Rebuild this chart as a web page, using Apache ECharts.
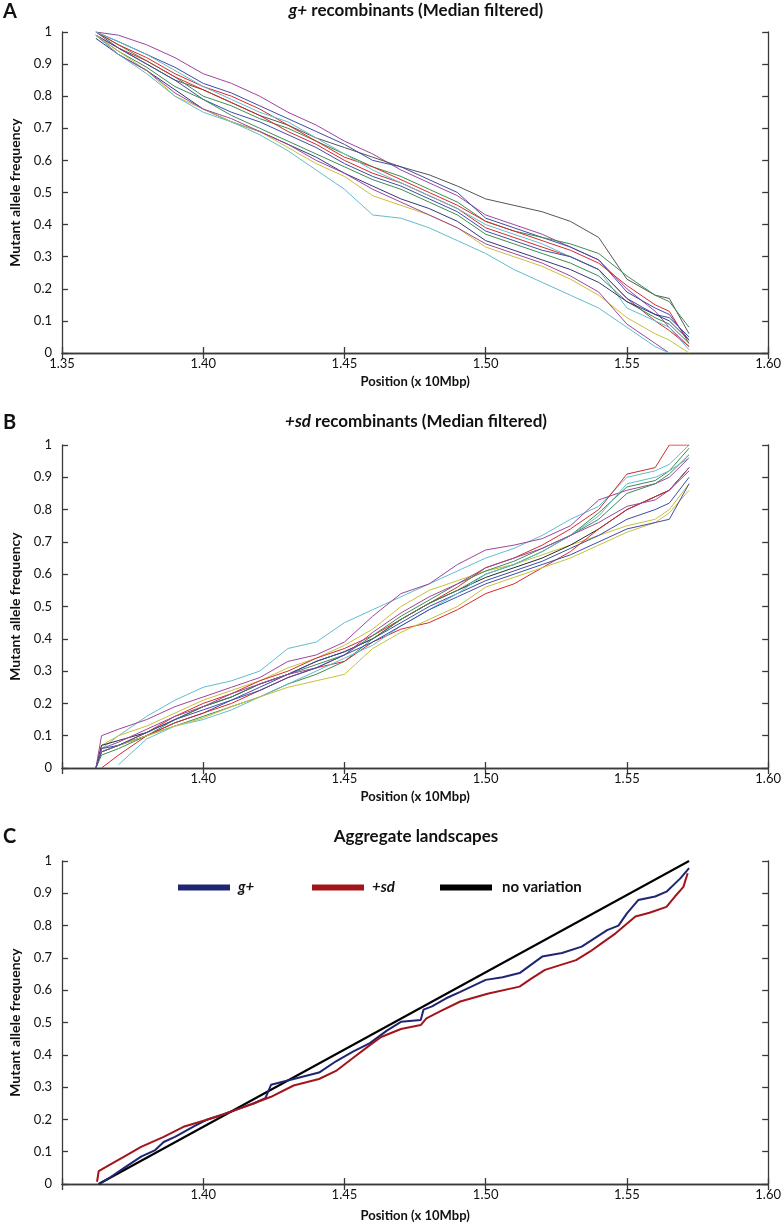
<!DOCTYPE html>
<html>
<head>
<meta charset="utf-8">
<script src="https://cdn.jsdelivr.net/npm/echarts@6/dist/echarts.min.js"></script>
<style>
  html, body { margin: 0; padding: 0; background: #fff; }
  #chart { width: 784px; height: 1226px; }
</style>
</head>
<body>
<div id="chart"></div>
<script>
// positions (x 10Mbp) shared by the single-line series of panel A and B
const posA = [1.362, 1.37, 1.38, 1.39, 1.40, 1.41, 1.42, 1.43, 1.44, 1.45, 1.46, 1.47, 1.48, 1.49, 1.50, 1.51, 1.52, 1.53, 1.54, 1.55, 1.56, 1.565, 1.572]
const posB = [1.362, 1.364, 1.37, 1.38, 1.39, 1.40, 1.41, 1.42, 1.43, 1.44, 1.45, 1.46, 1.47, 1.48, 1.49, 1.50, 1.51, 1.52, 1.53, 1.54, 1.55, 1.56, 1.565, 1.572]

// A: g+ recombinants
const gPurple1 = [1.00, 0.99, 0.96, 0.92, 0.87, 0.84, 0.80, 0.75, 0.71, 0.66, 0.62, 0.57, 0.53, 0.49, 0.43, 0.40, 0.37, 0.33, 0.29, 0.20, 0.13, 0.08, 0.02]
const gGray = [1.00, 0.95, 0.90, 0.85, 0.82, 0.78, 0.74, 0.71, 0.67, 0.64, 0.61, 0.58, 0.555, 0.52, 0.48, 0.46, 0.44, 0.41, 0.36, 0.23, 0.18, 0.17, 0.06]
const gBlue1 = [1.00, 0.97, 0.93, 0.89, 0.84, 0.81, 0.77, 0.73, 0.69, 0.65, 0.60, 0.58, 0.54, 0.50, 0.42, 0.39, 0.36, 0.33, 0.29, 0.19, 0.14, 0.12, 0.04]
const gGreen1 = [1.00, 0.96, 0.91, 0.86, 0.80, 0.77, 0.73, 0.70, 0.66, 0.62, 0.58, 0.55, 0.51, 0.47, 0.41, 0.38, 0.36, 0.34, 0.31, 0.24, 0.18, 0.16, 0.08]
const gRed1 = [1.00, 0.96, 0.92, 0.87, 0.83, 0.80, 0.76, 0.71, 0.66, 0.61, 0.58, 0.54, 0.50, 0.46, 0.41, 0.38, 0.35, 0.32, 0.28, 0.21, 0.15, 0.13, 0.03]
const gRed2 = [0.99, 0.95, 0.91, 0.86, 0.82, 0.78, 0.74, 0.69, 0.65, 0.60, 0.56, 0.53, 0.49, 0.45, 0.39, 0.36, 0.33, 0.30, 0.26, 0.17, 0.10, 0.07, 0.02]
const gCyan1 = [1.00, 0.97, 0.93, 0.88, 0.83, 0.79, 0.75, 0.72, 0.67, 0.62, 0.57, 0.53, 0.49, 0.45, 0.40, 0.37, 0.34, 0.30, 0.26, 0.14, 0.10, 0.08, 0.01]
const gBlue2 = [0.99, 0.95, 0.90, 0.85, 0.79, 0.75, 0.72, 0.68, 0.64, 0.59, 0.55, 0.52, 0.48, 0.44, 0.38, 0.35, 0.32, 0.30, 0.26, 0.17, 0.12, 0.11, 0.05]
const gGreen2 = [0.99, 0.94, 0.89, 0.83, 0.79, 0.74, 0.70, 0.66, 0.62, 0.58, 0.54, 0.51, 0.47, 0.43, 0.37, 0.34, 0.31, 0.28, 0.24, 0.16, 0.11, 0.09, 0.03]
const gBlue3 = [0.98, 0.93, 0.88, 0.82, 0.76, 0.72, 0.69, 0.65, 0.61, 0.56, 0.52, 0.48, 0.45, 0.41, 0.35, 0.32, 0.29, 0.26, 0.22, 0.16, 0.12, 0.10, 0.04]
const gYellow = [0.99, 0.94, 0.88, 0.80, 0.76, 0.72, 0.69, 0.64, 0.59, 0.55, 0.49, 0.46, 0.43, 0.39, 0.33, 0.30, 0.27, 0.23, 0.18, 0.11, 0.06, 0.04, 0.00]
const gPurple2 = [0.99, 0.93, 0.88, 0.81, 0.76, 0.73, 0.69, 0.65, 0.60, 0.56, 0.51, 0.47, 0.43, 0.39, 0.34, 0.31, 0.28, 0.24, 0.19, 0.09, 0.03, 0.00, null]
const gCyan2 = [0.99, 0.93, 0.87, 0.80, 0.75, 0.72, 0.68, 0.63, 0.57, 0.51, 0.43, 0.42, 0.39, 0.35, 0.31, 0.26, 0.22, 0.18, 0.14, 0.08, 0.02, 0.00, null]

// B: +sd recombinants
const sCyan1 = [0.00, 0.06, 0.10, 0.16, 0.21, 0.25, 0.27, 0.30, 0.37, 0.39, 0.45, 0.49, 0.53, 0.57, 0.61, 0.65, 0.68, 0.72, 0.77, 0.81, 0.90, 0.92, 0.94, 1.00]
const sPurple1 = [0.00, 0.10, 0.12, 0.15, 0.19, 0.22, 0.25, 0.28, 0.33, 0.35, 0.39, 0.47, 0.54, 0.57, 0.63, 0.675, 0.69, 0.71, 0.75, 0.83, 0.86, 0.88, 0.90, 0.96]
const sYellow1 = [0.00, 0.07, 0.10, 0.13, 0.17, 0.21, 0.24, 0.27, 0.31, 0.34, 0.38, 0.43, 0.50, 0.55, 0.58, 0.61, 0.63, 0.66, 0.69, 0.72, 0.75, 0.77, 0.80, 0.88]
const sBlack = [0.00, 0.07, 0.085, 0.11, 0.15, 0.19, 0.22, 0.26, 0.29, 0.33, 0.36, 0.40, 0.46, 0.51, 0.55, 0.59, 0.62, 0.65, 0.69, 0.74, 0.80, 0.84, 0.86, 0.93]
const sRed1 = [0.00, 0.05, 0.07, 0.11, 0.16, 0.20, 0.23, 0.27, 0.30, 0.34, 0.37, 0.41, 0.46, 0.51, 0.56, 0.62, 0.65, 0.69, 0.74, 0.80, 0.91, 0.93, 1.00, 1.00]
const sGreen1 = [0.00, 0.04, 0.06, 0.10, 0.15, 0.19, 0.22, 0.26, 0.29, 0.32, 0.35, 0.41, 0.47, 0.52, 0.57, 0.61, 0.64, 0.68, 0.72, 0.79, 0.87, 0.89, 0.92, 0.99]
const sBlue1 = [0.00, 0.06, 0.07, 0.10, 0.14, 0.17, 0.21, 0.25, 0.29, 0.33, 0.36, 0.40, 0.45, 0.50, 0.54, 0.58, 0.61, 0.64, 0.68, 0.72, 0.77, 0.80, 0.82, 0.90]
const sGreen2 = [0.00, 0.05, 0.07, 0.10, 0.13, 0.16, 0.19, 0.22, 0.26, 0.29, 0.33, 0.40, 0.46, 0.51, 0.55, 0.60, 0.63, 0.67, 0.72, 0.77, 0.85, 0.88, 0.91, 0.97]
const sRed2 = [null, 0.00, 0.04, 0.10, 0.14, 0.17, 0.20, 0.24, 0.28, 0.31, 0.33, 0.39, 0.43, 0.45, 0.49, 0.54, 0.57, 0.62, 0.67, 0.74, 0.80, 0.84, 0.86, 0.92]
const sCyan2 = [null, null, 0.01, 0.09, 0.13, 0.15, 0.18, 0.22, 0.26, 0.30, 0.34, 0.38, 0.44, 0.49, 0.54, 0.60, 0.63, 0.67, 0.72, 0.78, 0.88, 0.90, 0.92, 0.96]
const sYellow2 = [0.00, 0.05, 0.07, 0.10, 0.13, 0.155, 0.19, 0.22, 0.25, 0.27, 0.29, 0.37, 0.42, 0.46, 0.50, 0.56, 0.59, 0.62, 0.65, 0.69, 0.73, 0.76, 0.79, 0.86]
const sPurple2 = [0.00, 0.06, 0.08, 0.12, 0.16, 0.19, 0.23, 0.26, 0.29, 0.31, 0.35, 0.42, 0.48, 0.53, 0.57, 0.62, 0.65, 0.68, 0.72, 0.76, 0.81, 0.83, 0.86, 0.93]
const sBlue2 = [0.00, 0.05, 0.07, 0.11, 0.15, 0.18, 0.21, 0.24, 0.28, 0.31, 0.35, 0.39, 0.44, 0.49, 0.53, 0.57, 0.60, 0.63, 0.66, 0.70, 0.74, 0.76, 0.77, 0.88]

// C: aggregate landscapes
const aggGPos = [1.363, 1.367, 1.372, 1.378, 1.383, 1.386, 1.390, 1.397, 1.401, 1.407, 1.413, 1.418, 1.422, 1.424, 1.432, 1.441, 1.447, 1.453, 1.459, 1.465, 1.470, 1.477, 1.478, 1.481, 1.486, 1.491, 1.500, 1.506, 1.512, 1.520, 1.527, 1.534, 1.543, 1.547, 1.550, 1.554, 1.560, 1.564, 1.569, 1.572]
const aggGVal = [0.00, 0.02, 0.05, 0.085, 0.105, 0.13, 0.146, 0.18, 0.198, 0.215, 0.234, 0.25, 0.266, 0.307, 0.325, 0.345, 0.38, 0.41, 0.436, 0.475, 0.502, 0.508, 0.54, 0.55, 0.575, 0.595, 0.632, 0.64, 0.653, 0.704, 0.715, 0.735, 0.786, 0.80, 0.838, 0.879, 0.89, 0.905, 0.947, 0.978]
const aggSPos = [1.3624, 1.363, 1.367, 1.372, 1.378, 1.386, 1.393, 1.401, 1.407, 1.413, 1.418, 1.424, 1.432, 1.441, 1.447, 1.453, 1.459, 1.463, 1.470, 1.477, 1.479, 1.484, 1.491, 1.501, 1.512, 1.516, 1.521, 1.532, 1.537, 1.541, 1.546, 1.553, 1.558, 1.564, 1.567, 1.570, 1.5715]
const aggSVal = [0.007, 0.04, 0.06, 0.085, 0.115, 0.146, 0.177, 0.198, 0.215, 0.234, 0.25, 0.27, 0.305, 0.325, 0.35, 0.39, 0.43, 0.455, 0.48, 0.492, 0.513, 0.535, 0.565, 0.59, 0.611, 0.635, 0.663, 0.693, 0.72, 0.745, 0.776, 0.828, 0.84, 0.858, 0.89, 0.92, 0.962]
const noVarPos = [1.363, 1.572]
const noVarVal = [0, 1]

const xTicks = { min: 1.35, max: 1.60, step: 0.05 }
const yTicks = { min: 0, max: 1, step: 0.1 }

const FONT = 'Lato, "Open Sans", sans-serif'
const AXIS = '#3a3a3a'
const COL = {
  blue: '#3d4da6', green: '#3e8c4e', red: '#d42b2b', cyan: '#62bccd',
  purple: '#9e459e', yellow: '#c8c03a', gray: '#555555', black: '#2a2a2a'
}

const panelA = [
  [gPurple1, COL.purple], [gGray, COL.gray], [gBlue1, COL.blue], [gGreen1, COL.green],
  [gRed1, COL.red], [gRed2, COL.red], [gCyan1, COL.cyan], [gBlue2, COL.blue],
  [gGreen2, COL.green], [gBlue3, '#2f3a80'], [gYellow, COL.yellow], [gPurple2, COL.purple], [gCyan2, COL.cyan]
]
const panelB = [
  [sCyan1, COL.cyan], [sPurple1, COL.purple], [sYellow1, COL.yellow], [sBlack, COL.black],
  [sRed1, COL.red], [sGreen1, COL.green], [sBlue1, COL.blue], [sGreen2, COL.green],
  [sRed2, COL.red], [sCyan2, COL.cyan], [sYellow2, COL.yellow], [sPurple2, COL.purple], [sBlue2, COL.blue]
]

const pairs = (xs, ys) => xs.map((x, i) => [x, ys[i]]).filter(p => p[1] !== null)

const grids = [
  { left: 55, right: 7, top: 32, height: 321 },
  { left: 52, right: 7, top: 445, height: 323 },
  { left: 51, right: 6, top: 861, height: 323 }
]

const xAxis = []
const yAxis = []
grids.forEach((g, i) => {
  const line = { show: true, lineStyle: { color: AXIS, width: 1.3 } }
  const tick = { show: true, inside: true, length: 6, lineStyle: { color: AXIS, width: 1.3 } }
  xAxis.push({
    type: 'value', gridIndex: i, position: 'bottom',
    min: xTicks.min, max: xTicks.max, interval: xTicks.step,
    axisLine: line, axisTick: tick, splitLine: { show: false },
    axisLabel: {
      margin: 4, fontSize: 13, color: '#111', fontFamily: FONT,
      formatter: v => (i > 0 && v < 1.36) ? '' : v.toFixed(2)
    },
    name: 'Position (x 10Mbp)', nameLocation: 'middle', nameGap: i === 2 ? 25 : 22,
    nameTextStyle: { fontWeight: 'bold', fontSize: 13, color: '#111', fontFamily: FONT }
  })
  xAxis.push({
    type: 'value', gridIndex: i, position: 'top',
    min: xTicks.min, max: xTicks.max, interval: xTicks.step,
    axisLine: line, axisTick: tick, splitLine: { show: false }, axisLabel: { show: false }
  })
  yAxis.push({
    type: 'value', gridIndex: i, position: 'left',
    min: yTicks.min, max: yTicks.max, interval: yTicks.step,
    axisLine: line, axisTick: tick, splitLine: { show: false },
    axisLabel: { margin: 10, fontSize: 13, color: '#111', fontFamily: FONT },
    name: 'Mutant allele frequency', nameLocation: 'middle', nameGap: 40,
    nameTextStyle: { fontWeight: 'bold', fontSize: 14, color: '#111', fontFamily: FONT }
  })
  yAxis.push({
    type: 'value', gridIndex: i, position: 'right',
    min: yTicks.min, max: yTicks.max, interval: yTicks.step,
    axisLine: line, axisTick: tick, splitLine: { show: false }, axisLabel: { show: false }
  })
})

const series = []
panelA.forEach(([vals, color], k) => {
  series.push({
    name: 'g+ line ' + (k + 1), type: 'line', xAxisIndex: 0, yAxisIndex: 0,
    data: pairs(posA, vals), showSymbol: false, lineStyle: { color, width: 1 }
  })
})
panelB.forEach(([vals, color], k) => {
  series.push({
    name: '+sd line ' + (k + 1), type: 'line', xAxisIndex: 2, yAxisIndex: 2,
    data: pairs(posB, vals), showSymbol: false, lineStyle: { color, width: 1 }
  })
})
series.push(
  { name: 'no variation', type: 'line', xAxisIndex: 4, yAxisIndex: 4, data: pairs(noVarPos, noVarVal),
    showSymbol: false, color: '#000', lineStyle: { color: '#000', width: 2 } },
  { name: 'g+', type: 'line', xAxisIndex: 4, yAxisIndex: 4, data: pairs(aggGPos, aggGVal),
    showSymbol: false, color: '#1e2672', lineStyle: { color: '#1e2672', width: 2 } },
  { name: '+sd', type: 'line', xAxisIndex: 4, yAxisIndex: 4, data: pairs(aggSPos, aggSVal),
    showSymbol: false, color: '#a3141b', lineStyle: { color: '#a3141b', width: 2 } }
)

const legendRich = {
  it: { fontStyle: 'italic', fontWeight: 'bold', fontSize: 15, fontFamily: FONT, color: '#111', padding: [0, 0, 0, 3] },
  b: { fontWeight: 'bold', fontSize: 15, fontFamily: FONT, color: '#111', padding: [0, 0, 0, 5] }
}
const legendItem = (name, left) => ({
  data: [name], left, top: 875, icon: 'rect', itemWidth: 52, itemHeight: 6,
  selectedMode: false,
  formatter: n => n === 'no variation' ? '{b|' + n + '}' : '{it|' + n + '}',
  textStyle: { rich: legendRich }
})

const titleStyle = { fontWeight: 'bold', fontSize: 17, fontFamily: FONT, fill: '#111' }
const titleText = (text, y) => ({
  type: 'text', x: 416, y,
  style: Object.assign({ text, align: 'center', verticalAlign: 'middle',
    rich: { i: { fontStyle: 'italic', fontWeight: 'bold', fontSize: 17, fontFamily: FONT, fill: '#111' } } }, titleStyle)
})
const letter = (text, y) => ({
  type: 'text', x: 3, y,
  style: { text, fontWeight: 'bold', fontSize: 20, fontFamily: FONT, fill: '#111', verticalAlign: 'middle' }
})

const chart = echarts.init(document.getElementById('chart'))
chart.setOption({
  animation: false,
  backgroundColor: '#fff',
  grid: grids,
  xAxis,
  yAxis,
  legend: [legendItem('g+', 173), legendItem('+sd', 307), legendItem('no variation', 435)],
  graphic: [
    letter('A', 12), letter('B', 423), letter('C', 837),
    titleText('{i|g+} recombinants (Median filtered)', 11),
    titleText('{i|+sd} recombinants (Median filtered)', 422),
    titleText('Aggregate landscapes', 837)
  ],
  series
})
</script>
</body>
</html>
